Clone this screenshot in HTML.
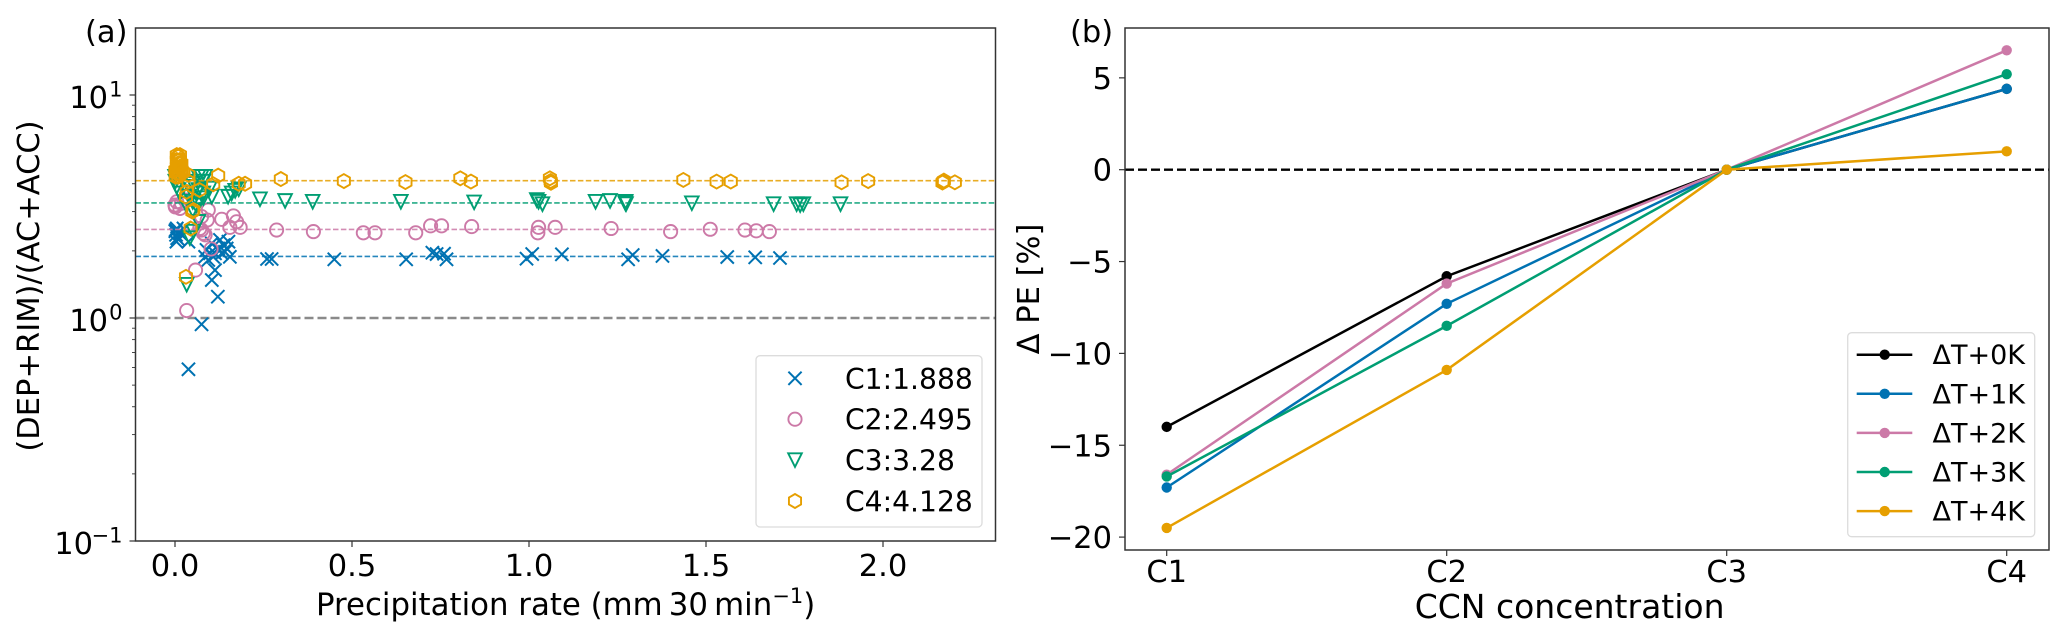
<!DOCTYPE html>
<html lang="en">
<head>
<meta charset="utf-8">
<title>Precipitation ratio and PE sensitivity</title>
<style>
  html,body{margin:0;padding:0;background:#fff;}
  svg{display:block;font-family:"DejaVu Sans","Liberation Sans",sans-serif;}
  text{fill:#000;}
</style>
</head>
<body>
<svg id="fig" xmlns="http://www.w3.org/2000/svg" width="2067" height="640" viewBox="0 0 2067 640">
  <rect x="0" y="0" width="2067" height="640" fill="#fff"/>
  <g id="panelA"></g>
  <g id="panelB"></g>

  <text x="85" y="42" font-size="30.5">(a)</text>
  <text x="1070" y="42" font-size="30.5">(b)</text>
  <text x="316" y="615" font-size="30.8">Precipitation rate (mm&#8201;30&#8201;min<tspan font-size="21" dy="-12">−1</tspan><tspan dy="12">)</tspan></text>
  <text transform="translate(39,286) rotate(-90)" text-anchor="middle" font-size="30.5">(DEP+RIM)/(AC+ACC)</text>
  <text x="1724.5" y="618" text-anchor="end" font-size="33">CCN concentration</text>
  <text transform="translate(1039,289) rotate(-90)" text-anchor="middle" font-size="30.5">Δ PE [%]</text>
</svg>
<script>
// ---------- Panel (a) data ----------
const xTicksA = [0, 0.5, 1, 1.5, 2];
const xTickLabelsA = ["0.0", "0.5", "1.0", "1.5", "2.0"];
const yDecadesA = [-1, 0, 1];
const yDecadeLabelsA = ["−1", "0", "1"];
const minorMultiples = [2, 3, 4, 5, 6, 7, 8, 9];
const scatterNames = ["C1:1.888", "C2:2.495", "C3:3.28", "C4:4.128"];
const meanValues = [1.888, 2.495, 3.28, 4.128];

const c1Rate = [.45,.653,.727,.739,.76,.767,.993,1.009,1.093,1.28,1.293,1.377,1.56,1.639,1.709,.26,.273,
  .002,.005,.003,.006,.014,.01,.024,.038,.004,.001,
  .151,.137,.127,.146,.122,.141,.132,.155,.113,.099,.094,.108,.122,.113,.104,.121,.075,.038,.089,.104,.085];
const c1Ratio = [1.833,1.833,1.963,1.936,1.942,1.833,1.845,1.936,1.93,1.833,1.916,1.897,1.877,1.871,1.858,1.839,1.839,
  2.48,2.52,2.36,2.28,2.40,2.25,2.52,2.2,2.2,2.45,
  2.2,2.12,2.24,2.05,2.02,1.98,1.95,1.88,1.95,1.95,1.82,1.88,2.05,1.64,1.48,1.246,.937,.589,2.02,2.16,1.88];

const c2Rate = [.391,.532,.565,.68,.722,.753,.838,1.027,1.025,1.074,1.232,1.40,1.512,1.61,1.642,1.679,.287,
  .132,.165,.155,.184,.174,.094,.091,.075,.07,.08,.014,0,.005,.018,.028,.001,.102,.058,.033,.085,.075];
const c2Ratio = [2.44,2.41,2.41,2.41,2.59,2.59,2.57,2.55,2.41,2.55,2.52,2.44,2.50,2.48,2.46,2.44,2.48,
  2.77,2.87,2.55,2.55,2.70,3.05,2.75,2.85,2.52,2.40,3.10,3.21,3.32,3.27,3.38,3.15,2.04,1.64,1.08,2.36,2.48];

const c3Rate = [.389,.638,.845,1.022,1.038,1.027,1.188,1.229,1.272,1.274,1.273,1.46,1.691,1.766,1.775,1.756,1.88,.24,.311,
  .15,.16,.17,.18,.104,.066,.075,.085,.066,.08,.066,.08,.098,0,.001,.005,.01,.014,.04,.05,.06,.04,.05,.03,.06,.066,.05,.08,
  .066,.052,.042,.033];
const c3Ratio = [3.32,3.32,3.30,3.38,3.24,3.32,3.32,3.35,3.27,3.24,3.32,3.27,3.24,3.21,3.24,3.24,3.24,3.41,3.35,
  3.50,3.62,3.72,3.78,3.5,4.30,4.30,4.3,4.09,4.09,3.75,3.62,3.81,4.3,4.09,3.88,3.75,3.62,3.88,4.0,3.62,3.5,3.32,3.25,3.2,3.25,3.05,3.45,
  2.70,2.44,2.28,1.41];

const c4Rate = [1.436,1.53,1.57,1.883,1.958,2.17,2.172,2.168,2.203,.477,.651,.806,.836,1.059,1.061,1.062,.299,.198,.18,
  .122,.108,.069,.033,.031,.052,.038,.038,
  .009,.014,.005,.01,.005,.014,.001,.009,.005,.014,.002,.009,.018,.019,.014,.005,.024,
  .044,.031,.049];
const c4Ratio = [4.16,4.09,4.09,4.06,4.11,4.09,4.13,4.05,4.06,4.11,4.07,4.23,4.09,4.23,4.11,4.04,4.2,4.0,4.0,
  4.35,3.98,3.75,3.68,3.50,3.05,4.38,4.09,
  5.29,5.11,5.11,4.94,4.77,4.77,4.61,4.61,4.45,4.45,4.3,4.3,4.94,4.61,5.38,5.38,4.5,
  2.52,1.53,3.0];

// ---------- Panel (b) data ----------
const categoriesB = ["C1", "C2", "C3", "C4"];
const yTicksB = [5, 0, -5, -10, -15, -20];
const yTickLabelsB = ["5", "0", "−5", "−10", "−15", "−20"];
const seriesNamesB = ["ΔT+0K", "ΔT+1K", "ΔT+2K", "ΔT+3K", "ΔT+4K"];
const dT0 = [-14.0, -5.8, 0, 4.4];
const dT1 = [-17.3, -7.3, 0, 4.4];
const dT2 = [-16.6, -6.2, 0, 6.5];
const dT3 = [-16.7, -8.5, 0, 5.2];
const dT4 = [-19.5, -10.9, 0, 1.0];

// ---------- Helpers ----------
const NS = "http://www.w3.org/2000/svg";
const BLUE = "#0072B2", PINK = "#CC79A7", GREEN = "#009E73", ORANGE = "#E69F00";
const SPINE = "#333";
const A = {l:135.5, r:995.5, t:28, b:541};
const B = {l:1125, r:2049, t:28, b:550};

function xA(v){ return 175 + 354 * v; }
function yA(v){ return 318 - 223 * Math.log10(v); }
function xB(i){ return 1166.7 + 280 * i; }
function yB(v){ return 169.7 - 18.37 * v; }

function mk(parent, tag, attrs){
  const el = document.createElementNS(NS, tag);
  for (const k in attrs) el.setAttribute(k, attrs[k]);
  parent.appendChild(el);
  return el;
}
function hexPoints(cx, cy, r){
  const p = [];
  for (let i = 0; i < 6; i++){
    const a = Math.PI / 2 + i * Math.PI / 3;
    p.push((cx + r * Math.cos(a)).toFixed(2) + "," + (cy + r * Math.sin(a)).toFixed(2));
  }
  return p.join(" ");
}
function triPoints(cx, cy, r){
  return (cx - r) + "," + (cy - r) + " " + (cx + r) + "," + (cy - r) + " " + cx + "," + (cy + r);
}
function drawMarker(parent, kind, cx, cy){
  let el;
  if (kind === 0){
    const s = 6.6;
    el = mk(parent, "path", {d:"M"+(cx-s)+" "+(cy-s)+"L"+(cx+s)+" "+(cy+s)+"M"+(cx-s)+" "+(cy+s)+"L"+(cx+s)+" "+(cy-s), fill:"none", stroke:BLUE, "stroke-width":2});
  } else if (kind === 1){
    el = mk(parent, "circle", {cx:cx, cy:cy, r:6.6, fill:"none", stroke:PINK, "stroke-width":1.9});
  } else if (kind === 2){
    el = mk(parent, "polygon", {points:triPoints(cx, cy, 6.8), fill:"none", stroke:GREEN, "stroke-width":1.9});
  } else {
    el = mk(parent, "polygon", {points:hexPoints(cx, cy, 7), fill:"none", stroke:ORANGE, "stroke-width":1.9});
  }
  return el;
}

// ---------- Panel (a) ----------
const pa = document.getElementById("panelA");
const scatterRates = [c1Rate, c2Rate, c3Rate, c4Rate];
const scatterRatios = [c1Ratio, c2Ratio, c3Ratio, c4Ratio];
const scatterColors = [BLUE, PINK, GREEN, ORANGE];

const refLine = mk(pa, "line", {x1:A.l, x2:A.r, y1:yA(1), y2:yA(1), stroke:"#8a8a8a", "stroke-width":2.4, "stroke-dasharray":"9 4"});



scatterNames.forEach(function(name, s){
  const line = mk(pa, "line", {x1:A.l, x2:A.r, y1:yA(meanValues[s]), y2:yA(meanValues[s]), stroke:scatterColors[s], "stroke-width":1.7, "stroke-dasharray":"5.5 2.4", opacity:0.85});
  
  
  scatterRates[s].forEach(function(rate, i){
    const m = drawMarker(pa, s, xA(rate), yA(scatterRatios[s][i]));
    
    
  });
});

xTicksA.forEach(function(v, i){
  const t = mk(pa, "line", {x1:xA(v), x2:xA(v), y1:A.b, y2:A.b + 6, stroke:SPINE, "stroke-width":1.2});
  
  
  const lb = mk(pa, "text", {x:xA(v), y:576, "text-anchor":"middle", "font-size":30.5});
  
  
  lb.textContent = xTickLabelsA[i];
});

yDecadesA.forEach(function(d, i){
  const y = yA(Math.pow(10, d));
  const t = mk(pa, "line", {x1:A.l - 6, x2:A.l, y1:y, y2:y, stroke:SPINE, "stroke-width":1.2});
  
  
  const supEnd = 122.5;
  const sup = mk(pa, "text", {x:supEnd, y:y + 1.5, "text-anchor":"end", "font-size":21});
  
  
  sup.textContent = yDecadeLabelsA[i];
  const baseRight = d < 0 ? 93 : 108;
  const base = mk(pa, "text", {x:baseRight, y:y + 13, "text-anchor":"end", "font-size":30.5});
  
  
  base.textContent = "10";
  if (d < 1){
    minorMultiples.forEach(function(m){
      const ym = yA(m * Math.pow(10, d));
      const mt = mk(pa, "line", {x1:A.l - 3.5, x2:A.l, y1:ym, y2:ym, stroke:SPINE, "stroke-width":0.9});
      
      
    });
  }
});

const frameA = mk(pa, "rect", {x:A.l, y:A.t, width:A.r - A.l, height:A.b - A.t, fill:"none", stroke:SPINE, "stroke-width":1.5});



const legA = mk(pa, "rect", {x:756, y:355.7, width:226, height:171.3, rx:4, fill:"#fff", "fill-opacity":0.85, stroke:"#dcdcdc", "stroke-width":1.3});


scatterNames.forEach(function(name, s){
  const y = 378.3 + s * 40.9;
  const m = drawMarker(pa, s, 795, y);
  
  
  const t = mk(pa, "text", {x:845, y:y + 10.5, "font-size":28.2});
  
  
  t.textContent = name;
});

// ---------- Panel (b) ----------
const pb = document.getElementById("panelB");
const seriesB = [dT0, dT1, dT2, dT3, dT4];
const colorsB = ["#000000", BLUE, PINK, GREEN, ORANGE];

const zero = mk(pb, "line", {x1:B.l, x2:B.r, y1:yB(0), y2:yB(0), stroke:"#000", "stroke-width":2.4, "stroke-dasharray":"9 4"});



seriesB.forEach(function(vals, s){
  const pts = vals.map(function(v, i){ return xB(i) + "," + yB(v); }).join(" ");
  const pl = mk(pb, "polyline", {points:pts, fill:"none", stroke:colorsB[s], "stroke-width":2.5});
  
  
  vals.forEach(function(v, i){
    const c = mk(pb, "circle", {cx:xB(i), cy:yB(v), r:5.2, fill:colorsB[s]});
    
    
  });
});

categoriesB.forEach(function(c, i){
  const t = mk(pb, "line", {x1:xB(i), x2:xB(i), y1:B.b, y2:B.b + 6, stroke:SPINE, "stroke-width":1.2});
  
  
  const lb = mk(pb, "text", {x:xB(i), y:582, "text-anchor":"middle", "font-size":30.5});
  
  
  lb.textContent = c;
});

yTicksB.forEach(function(v, i){
  const t = mk(pb, "line", {x1:B.l - 6, x2:B.l, y1:yB(v), y2:yB(v), stroke:SPINE, "stroke-width":1.2});
  
  
  const lb = mk(pb, "text", {x:1112, y:yB(v) + 11, "text-anchor":"end", "font-size":30.5});
  
  
  lb.textContent = yTickLabelsB[i];
});

const frameB = mk(pb, "rect", {x:B.l, y:B.t, width:B.r - B.l, height:B.b - B.t, fill:"none", stroke:SPINE, "stroke-width":1.5});



const legB = mk(pb, "rect", {x:1847.7, y:332.7, width:187, height:204, rx:4, fill:"#fff", "fill-opacity":0.85, stroke:"#dcdcdc", "stroke-width":1.3});


seriesNamesB.forEach(function(name, s){
  const y = 354.7 + s * 39.1;
  const l = mk(pb, "line", {x1:1856.7, x2:1912.3, y1:y, y2:y, stroke:colorsB[s], "stroke-width":2.5});
  
  
  const c = mk(pb, "circle", {cx:1884.7, cy:y, r:5.2, fill:colorsB[s]});
  
  
  const t = mk(pb, "text", {x:1932.5, y:y + 9.5, "font-size":27});
  
  
  t.textContent = name;
});
</script>
</body>
</html>
